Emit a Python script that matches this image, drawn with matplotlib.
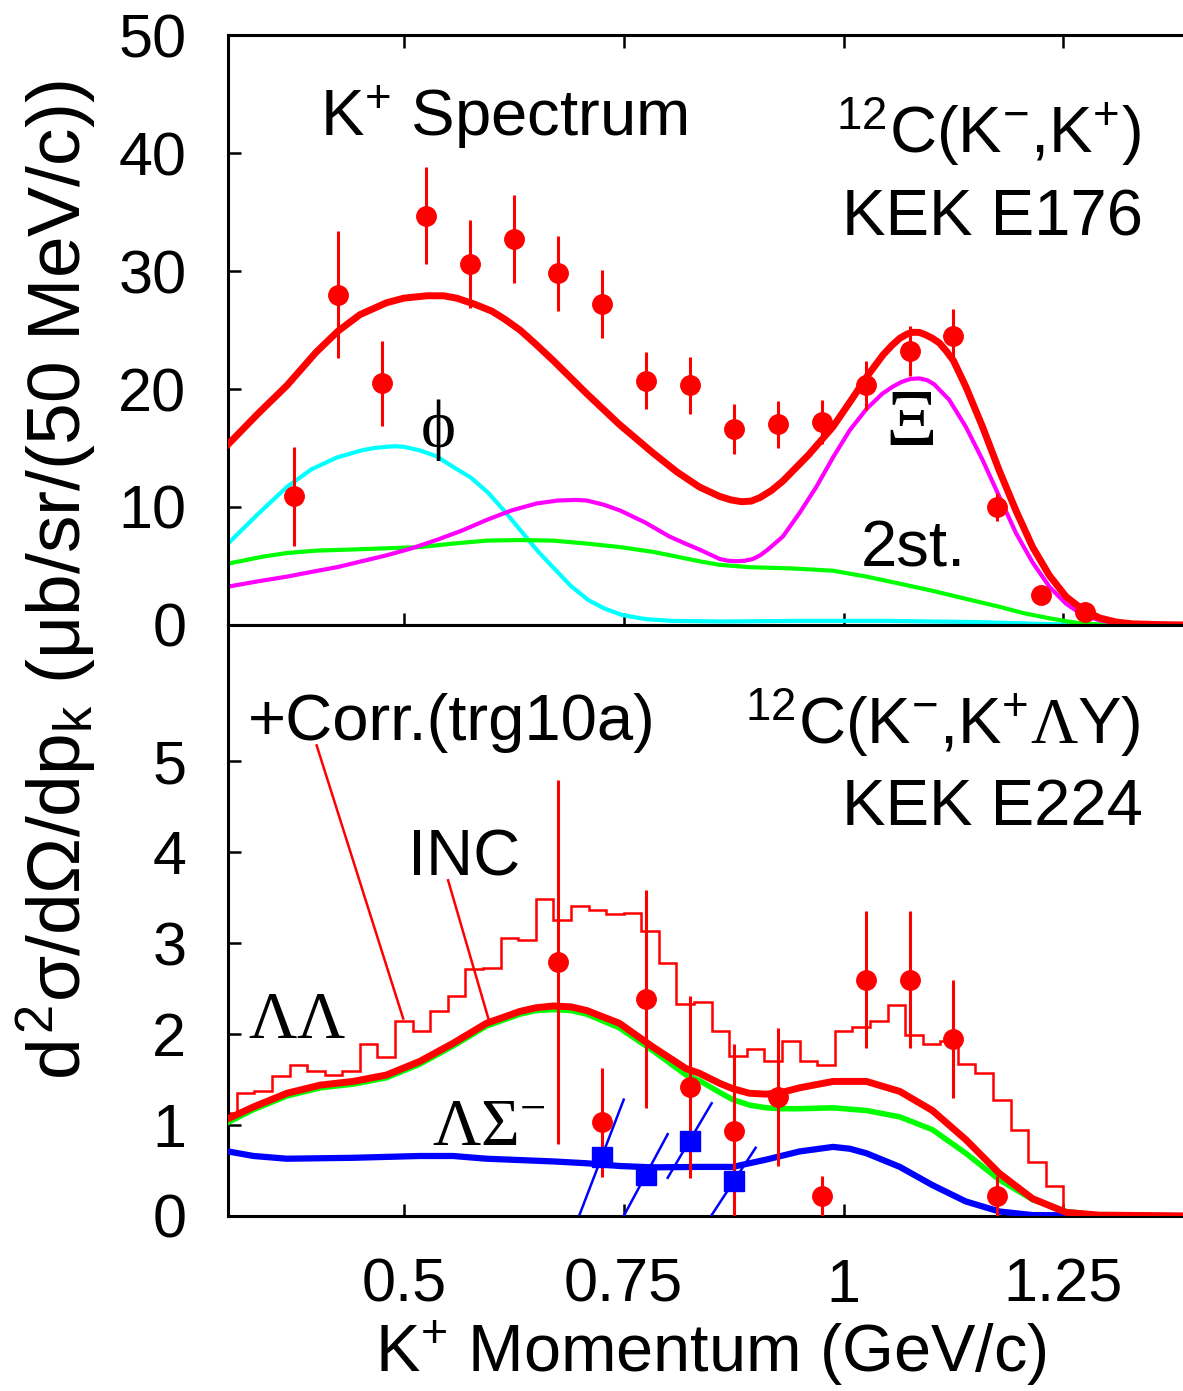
import numpy as np
import matplotlib
matplotlib.use('Agg')
import matplotlib.pyplot as plt

plt.rcParams['font.family'] = ['Liberation Sans', 'DejaVu Sans']
plt.rcParams['mathtext.fontset'] = 'custom'
plt.rcParams['mathtext.rm'] = 'Liberation Sans'
plt.rcParams['mathtext.it'] = 'Liberation Sans'
plt.rcParams['mathtext.sf'] = 'Liberation Serif'

# ---- top panel: 12C(K-,K+) KEK E176 ----
top_x = [0.375, 0.425, 0.475, 0.525, 0.575, 0.625, 0.675, 0.725, 0.775, 0.825,
         0.875, 0.925, 0.975, 1.025, 1.075, 1.125, 1.175, 1.225, 1.275]
top_y = [10.9, 28.0, 20.5, 34.7, 30.6, 32.7, 29.8, 27.2, 20.7, 20.3,
         16.6, 17.0, 17.2, 20.3, 23.2, 24.5, 10.0, 2.5, 1.1]
top_err = [4.2, 5.4, 3.6, 4.1, 3.7, 3.7, 3.2, 2.9, 2.4, 2.4,
           2.1, 2.0, 1.9, 2.1, 2.1, 2.3, 1.2, 0.6, 0.4]

tot_x = [0.300, 0.334, 0.367, 0.400, 0.425, 0.450, 0.480, 0.500, 0.526, 0.545,
         0.560, 0.580, 0.600, 0.615, 0.632, 0.650, 0.670, 0.708, 0.745, 0.783,
         0.810, 0.836, 0.859, 0.872, 0.884, 0.895, 0.905, 0.918, 0.931, 0.960,
         0.988, 1.010, 1.026, 1.045, 1.055, 1.064, 1.072, 1.078, 1.086, 1.093,
         1.101, 1.109, 1.117, 1.125, 1.139, 1.158, 1.177, 1.196, 1.215, 1.234,
         1.253, 1.272, 1.291, 1.310, 1.328, 1.360, 1.390]
tot_y = [15.3, 17.9, 20.3, 23.1, 24.9, 26.3, 27.3, 27.7, 27.9, 27.9,
         27.7, 27.2, 26.6, 25.9, 25.0, 23.8, 22.4, 19.6, 17.0, 14.6,
         13.0, 11.7, 10.9, 10.6, 10.45, 10.5, 10.8, 11.4, 12.2, 14.4,
         16.8, 19.2, 21.0, 22.9, 23.7, 24.3, 24.65, 24.8, 24.8, 24.6,
         24.3, 23.9, 23.2, 22.4, 20.2, 16.8, 13.1, 9.7, 6.6, 4.2,
         2.4, 1.3, 0.6, 0.25, 0.1, 0.03, 0.0]

phi_x = [0.300, 0.334, 0.367, 0.395, 0.424, 0.452, 0.466, 0.480, 0.490, 0.500,
         0.518, 0.537, 0.556, 0.576, 0.596, 0.615, 0.634, 0.653, 0.672, 0.690,
         0.710, 0.728, 0.748, 0.775, 0.805, 0.862, 0.950, 1.050, 1.150, 1.220,
         1.280, 1.390]
phi_y = [6.9, 9.4, 11.7, 13.2, 14.2, 14.8, 15.0, 15.1, 15.15, 15.1,
         14.8, 14.3, 13.4, 12.5, 11.2, 9.6, 7.9, 6.2, 4.7, 3.3,
         2.1, 1.4, 0.85, 0.5, 0.35, 0.3, 0.35, 0.35, 0.25, 0.1,
         0.0, 0.0]

xi_x = [0.300, 0.334, 0.367, 0.395, 0.424, 0.452, 0.480, 0.509, 0.537, 0.566,
        0.594, 0.622, 0.651, 0.675, 0.696, 0.708, 0.727, 0.746, 0.774, 0.802,
        0.820, 0.836, 0.859, 0.868, 0.878, 0.888, 0.897, 0.905, 0.914, 0.931,
        0.950, 0.969, 0.988, 1.007, 1.026, 1.044, 1.056, 1.066, 1.076, 1.086,
        1.095, 1.103, 1.120, 1.139, 1.158, 1.177, 1.196, 1.215, 1.234, 1.253,
        1.272, 1.291, 1.310, 1.340, 1.390]
xi_y = [3.25, 3.7, 4.1, 4.5, 4.9, 5.4, 5.9, 6.5, 7.2, 8.0,
        8.9, 9.7, 10.3, 10.55, 10.6, 10.55, 10.2, 9.7, 8.7, 7.5,
        6.9, 6.4, 5.6, 5.45, 5.4, 5.45, 5.6, 5.9, 6.4, 7.5,
        9.5, 11.7, 14.2, 16.5, 18.3, 19.6, 20.2, 20.6, 20.85, 20.9,
        20.75, 20.4, 19.1, 16.8, 14.0, 10.9, 7.8, 5.3, 3.25, 1.8,
        0.85, 0.4, 0.15, 0.05, 0.0]

two_x = [0.300, 0.340, 0.367, 0.400, 0.442, 0.480, 0.518, 0.556, 0.594, 0.632,
         0.670, 0.708, 0.746, 0.783, 0.810, 0.836, 0.859, 0.893, 0.940, 0.988,
         1.026, 1.064, 1.101, 1.140, 1.177, 1.205, 1.234, 1.255, 1.272, 1.300, 1.390]
two_y = [5.2, 5.8, 6.1, 6.3, 6.4, 6.5, 6.6, 6.9, 7.15, 7.2,
         7.15, 6.9, 6.6, 6.2, 5.8, 5.4, 5.1, 4.9, 4.8, 4.6,
         4.1, 3.5, 2.9, 2.2, 1.55, 1.0, 0.57, 0.3, 0.12, 0.03, 0.0]

# ---- bottom panel: 12C(K-,K+ΛY) KEK E224 ----
hist_start = 0.29
hist_width = 0.02
hist_vals = [1.13, 1.35, 1.37, 1.54, 1.66, 1.60, 1.55, 1.60, 1.89, 1.75,
             2.15, 2.03, 2.25, 2.42, 2.72, 2.73, 3.06, 3.04, 3.49, 3.26,
             3.41, 3.36, 3.32, 3.33, 3.13, 2.78, 2.33, 2.35, 2.03, 1.76,
             1.84, 1.70, 1.93, 1.71, 1.66, 2.04, 2.08, 2.14, 2.32, 1.99,
             1.89, 1.93, 1.67, 1.57, 1.28, 0.95, 0.59, 0.33, 0.03, 0.0,
             0.0, 0.0, 0.0, 0.0, 0.0, 0.0]

bot_x = [0.675, 0.725, 0.775, 0.825, 0.875, 0.925, 0.975, 1.025, 1.075, 1.125, 1.175]
bot_y = [2.79, 1.03, 2.39, 1.42, 0.94, 1.31, 0.22, 2.60, 2.60, 1.95, 0.22]
bot_err = [2.0, 0.6, 1.2, 1.0, 0.95, 0.76, 0.22, 0.75, 0.75, 0.65, 0.22]

sq_x = [0.725, 0.775, 0.825, 0.875]
sq_y = [0.65, 0.45, 0.83, 0.38]
sq_err = [0.63, 0.45, 0.41, 0.37]

inc_x = [0.300, 0.329, 0.367, 0.405, 0.442, 0.480, 0.518, 0.556, 0.594, 0.632,
         0.650, 0.670, 0.690, 0.708, 0.745, 0.783, 0.821, 0.836, 0.859, 0.874,
         0.893, 0.912, 0.930, 0.950, 0.988, 1.026, 1.064, 1.101, 1.139, 1.177,
         1.215, 1.253, 1.290, 1.390]
inc_red = [1.07, 1.20, 1.35, 1.44, 1.48, 1.55, 1.70, 1.90, 2.12, 2.25,
           2.29, 2.31, 2.30, 2.26, 2.12, 1.86, 1.62, 1.57, 1.46, 1.40,
           1.35, 1.34, 1.36, 1.41, 1.48, 1.48, 1.37, 1.16, 0.84, 0.47,
           0.19, 0.04, 0.01, 0.0]
inc_green = [1.03, 1.17, 1.32, 1.41, 1.45, 1.52, 1.67, 1.87, 2.09, 2.22,
             2.26, 2.27, 2.26, 2.22, 2.07, 1.82, 1.55, 1.49, 1.36, 1.28,
             1.22, 1.19, 1.18, 1.18, 1.19, 1.16, 1.09, 0.95, 0.69, 0.40,
             0.18, 0.05, 0.01, 0.0]

ls_x = [0.300, 0.329, 0.367, 0.442, 0.518, 0.556, 0.594, 0.670, 0.708, 0.745,
        0.783, 0.836, 0.874, 0.912, 0.950, 0.988, 1.007, 1.026, 1.064, 1.101,
        1.139, 1.177, 1.215, 1.390]
ls_y = [0.71, 0.66, 0.63, 0.64, 0.66, 0.66, 0.63, 0.60, 0.58, 0.55,
        0.535, 0.54, 0.54, 0.62, 0.71, 0.76, 0.74, 0.69, 0.54, 0.34,
        0.16, 0.05, 0.01, 0.0]

x_ticks = [0.5, 0.75, 1.0, 1.25]
x_ticklabels = ['0.5', '0.75', '1', '1.25']

RED, GREEN, BLUE = '#ff0000', '#00ff00', '#0000ff'
CYAN, MAGENTA = '#00ffff', '#ff00ff'

fig = plt.figure(figsize=(11.83, 13.91), dpi=100)
left = 228 / 1183
ax1 = fig.add_axes([left, 1 - 625 / 1391, 1 - left, (625 - 35) / 1391])
ax2 = fig.add_axes([left, 1 - 1216 / 1391, 1 - left, (1216 - 625) / 1391])

for ax in (ax1, ax2):
    ax.set_xlim(0.3, 1.386)
    ax.spines['right'].set_visible(False)
    for s in ax.spines.values():
        s.set_linewidth(2.2)
    ax.set_xticks(x_ticks)
    ax.tick_params(direction='in', length=9, width=1.8, labelsize=44, pad=30)

# top panel
ax1.set_ylim(0, 50)
ax1.set_yticks([0, 10, 20, 30, 40, 50])
ax1.tick_params(axis='x', top=True, labelbottom=False)
ax1.plot(phi_x, phi_y, color=CYAN, lw=3, zorder=2)
ax1.plot(two_x, two_y, color=GREEN, lw=3, zorder=2)
ax1.plot(xi_x, xi_y, color=MAGENTA, lw=3, zorder=2)
ax1.plot(tot_x, tot_y, color=RED, lw=5, zorder=3)
ax1.errorbar(top_x, top_y, yerr=top_err, fmt='o', color=RED, ms=14,
             elinewidth=2.2, capsize=0, zorder=4)

ax1.text(0.4045, 41.4, 'K$^{+}$ Spectrum', fontsize=47, va='baseline')
ax1.text(1.3375, 40.0, '$^{12}$C(K$^{-}$,K$^{+}$)', fontsize=47, ha='right', va='baseline')
ax1.text(1.340, 33.05, 'KEK E176', fontsize=47, ha='right', va='baseline')
ax1.text(0.539, 16.5, 'ϕ', fontsize=48, family=['Liberation Serif', 'DejaVu Serif'],
         ha='center', va='center')
ax1.text(1.077, 16.9, 'Ξ', fontsize=58, family='Liberation Serif', ha='center', va='center')
ax1.text(1.019, 4.94, '2st.', fontsize=47, va='baseline')

# bottom panel
ax2.set_ylim(0, 6.5)
ax2.set_yticks([0, 1, 2, 3, 4, 5])
ax2.set_xticklabels(x_ticklabels)
ax2.tick_params(axis='x', top=False)

edges = hist_start + hist_width * np.arange(len(hist_vals) + 1)
ax2.stairs(hist_vals, edges, color=RED, lw=1.8, zorder=2)
ax2.plot(ls_x, ls_y, color=BLUE, lw=4.5, zorder=3)
ax2.plot(inc_x, inc_green, color=GREEN, lw=4, zorder=3)
ax2.plot(inc_x, inc_red, color=RED, lw=5, zorder=3)
ax2.errorbar(bot_x, bot_y, yerr=bot_err, fmt='o', color=RED, ms=14,
             elinewidth=2.2, capsize=0, zorder=5)
for x, y, e in zip(sq_x, sq_y, sq_err):
    ax2.plot([x - 0.025, x + 0.025], [y - e, y + e], color=BLUE, lw=1.8, zorder=4)
ax2.plot(sq_x, sq_y, 's', color=BLUE, ms=14, zorder=6)

ax2.text(0.3227, 5.24, '+Corr.(trg10a)', fontsize=47, va='baseline')
ax2.plot([0.4008, 0.4992], [5.176, 2.172], color=RED, lw=1.8)
ax2.text(0.5045, 3.75, 'INC', fontsize=47, va='baseline')
ax2.plot([0.5503, 0.5977], [3.692, 2.118], color=RED, lw=1.8)
ax2.text(1.338, 5.19, r'$^{12}$C(K$^{-}$,K$^{+}\mathsf{\Lambda}$Y)', fontsize=47,
         ha='right', va='baseline')
ax2.text(1.340, 4.30, 'KEK E224', fontsize=47, ha='right', va='baseline')
ax2.text(0.3227, 1.956, r'$\mathsf{\Lambda\Lambda}$', fontsize=48, va='baseline')
ax2.text(0.5318, 0.78, r'$\mathsf{\Lambda\Sigma^{-}}$', fontsize=48, va='baseline')

fig.text(711 / 1183, 1 - 1372 / 1391, 'K$^{+}$ Momentum (GeV/c)', fontsize=48,
         ha='center', va='baseline')
fig.text(57 / 1183, 1 - 580 / 1391,
         r'$d^2\sigma/d\Omega/dp_k\ (\mu b/sr/(50\ MeV/c))$',
         fontsize=54, rotation=90, ha='center', va='center')

fig.savefig('out.png', dpi=100)
